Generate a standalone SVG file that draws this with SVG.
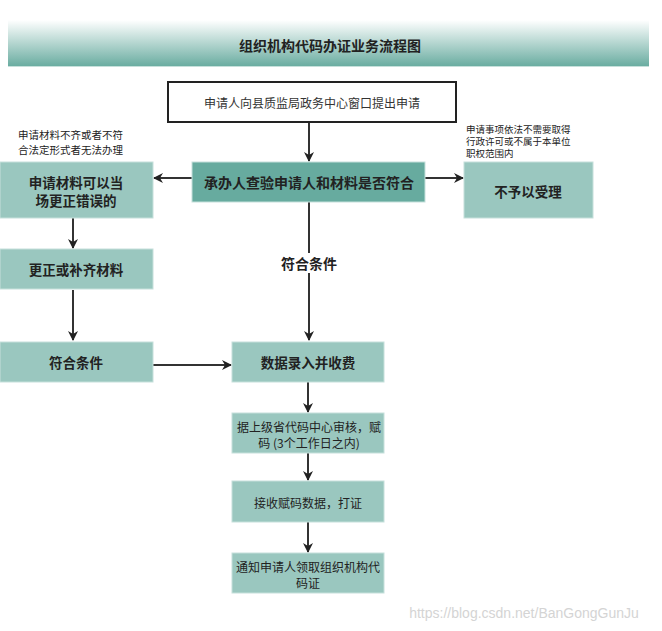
<svg xmlns="http://www.w3.org/2000/svg" width="662" height="631" viewBox="0 0 662 631">
<defs>
<linearGradient id="bg" x1="0" y1="0" x2="0" y2="1">
<stop offset="0" stop-color="#ffffff"/>
<stop offset="1" stop-color="#67ab9f"/>
</linearGradient>
<marker id="ah" viewBox="0 0 10 10" refX="9" refY="5" markerWidth="10" markerHeight="10" markerUnits="userSpaceOnUse" orient="auto">
<path d="M0,0 L10,5 L0,10 L3,5 Z" fill="#222"/>
</marker>
<style>
text{font-family:"Noto Sans CJK SC","Liberation Sans",sans-serif;fill:#222;text-anchor:middle;dominant-baseline:central}
.lt{fill:#9ac7bf;stroke:#c6e0db;stroke-width:1}
.dk{fill:#67ab9f;stroke:#c6e0db;stroke-width:1}
.b{font-weight:bold;font-size:13.5px}
.n{font-size:12px}
.s{font-size:10.5px;text-anchor:start}
.xs{font-size:9.5px;text-anchor:start}
.c line{stroke:#333;stroke-width:2;marker-end:url(#ah)}
</style>
</defs>
<rect width="662" height="631" fill="#ffffff"/>
<g id="title">
<rect x="8" y="20" width="641" height="47" fill="url(#bg)"/>
<line x1="8" y1="66.5" x2="649" y2="66.5" stroke="#c6e0db"/>
<text x="330" y="45" style="font-weight:bold;font-size:14px">组织机构代码办证业务流程图</text>
</g>
<g class="c" id="connectors">
<line x1="309" y1="122" x2="309" y2="161"/>
<line x1="192" y1="178" x2="154" y2="178"/>
<line x1="425" y1="178" x2="463" y2="178"/>
<line x1="73" y1="218" x2="73" y2="248"/>
<line x1="73" y1="290" x2="73" y2="340"/>
<line x1="153" y1="365" x2="231" y2="365"/>
<line x1="309" y1="202" x2="309" y2="340"/>
<line x1="308" y1="382" x2="308" y2="412"/>
<line x1="308" y1="453" x2="308" y2="480"/>
<line x1="308" y1="522" x2="308" y2="552"/>
</g>
<g id="label-fuhe">
<rect x="276" y="253" width="66" height="20" fill="#ffffff"/>
<text x="309" y="263" style="font-weight:bold;font-size:14px">符合条件</text>
</g>
<g id="apply">
<rect x="168" y="82" width="288" height="40" fill="#ffffff" stroke="#222" stroke-width="2"/>
<text x="312" y="102" class="n" style="fill:#333">申请人向县质监局政务中心窗口提出申请</text>
</g>
<g id="check">
<rect x="192" y="162" width="233" height="40" class="dk"/>
<text x="309" y="182" class="b" style="font-size:14px">承办人查验申请人和材料是否符合</text>
</g>
<g id="note-left">
<text x="18" y="134" class="s">申请材料不齐或者不符</text>
<text x="18" y="149" class="s">合法定形式者无法办理</text>
</g>
<g id="note-right">
<text x="466" y="129" class="xs">申请事项依法不需要取得</text>
<text x="466" y="141" class="xs">行政许可或不属于本单位</text>
<text x="466" y="153" class="xs">职权范围内</text>
</g>
<g id="correctable">
<rect x="0" y="162" width="153" height="56" class="lt"/>
<text x="76" y="182" class="b">申请材料可以当</text>
<text x="76" y="200" class="b">场更正错误的</text>
</g>
<g id="reject">
<rect x="464" y="162" width="129" height="56" class="lt"/>
<text x="528" y="191" class="b">不予以受理</text>
</g>
<g id="supplement">
<rect x="0" y="249" width="153" height="40" class="lt"/>
<text x="76" y="269" class="b">更正或补齐材料</text>
</g>
<g id="qualified">
<rect x="0" y="342" width="153" height="40" class="lt"/>
<text x="76" y="362" class="b">符合条件</text>
</g>
<g id="entry">
<rect x="232" y="342" width="152" height="40" class="lt"/>
<text x="308" y="362" class="b">数据录入并收费</text>
</g>
<g id="review">
<rect x="232" y="413" width="152" height="40" class="lt"/>
<text x="309" y="426" class="n">据上级省代码中心审核，赋</text>
<text x="309" y="442" class="n">码 (3个工作日之内)</text>
</g>
<g id="receive">
<rect x="232" y="481" width="152" height="41" class="lt"/>
<text x="308" y="502" class="n">接收赋码数据，打证</text>
</g>
<g id="notify">
<rect x="232" y="553" width="152" height="40" class="lt"/>
<text x="308" y="566" class="n">通知申请人领取组织机构代</text>
<text x="308" y="582" class="n">码证</text>
</g>
<text x="524" y="613" style="font-family:'Liberation Sans',sans-serif;font-size:14px;fill:#d4d4d4">https://blog.csdn.net/BanGongGunJu</text>
</svg>
